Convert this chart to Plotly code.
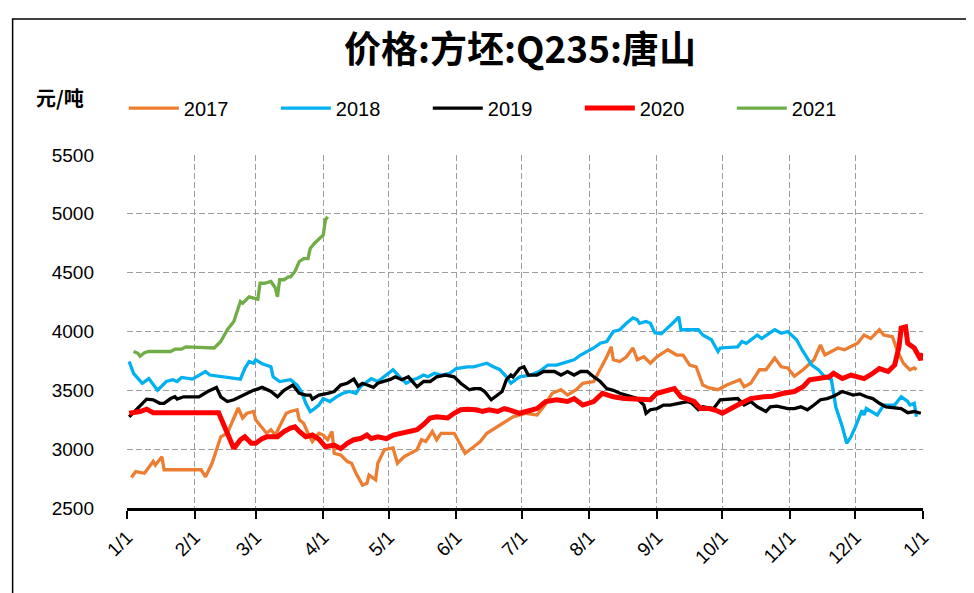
import plotly.graph_objects as go

# ---- data: day-of-year offset (0 = Jan 1) and price (元/吨) ----
d2017 = [2,4,8,12,13,16,17,34,36,39,43,46,49,51,53,55,58,59,64,66,68,73,75,78,79,81,83,85,88,90,92,94,95,98,101,103,105,108,110,111,114,115,118,122,124,127,130,133,135,137,140,142,144,150,153,155,159,162,165,170,174,177,183,188,191,195,199,202,206,209,214,217,220,222,223,226,229,232,234,237,240,243,248,252,255,258,261,264,267,271,275,281,283,286,290,293,297,300,303,306,310,315,318,320,323,326,329,332,335,338,341,345,347,351,353,356,359,361,362]
v2017 = [2760,2810,2795,2895,2865,2935,2825,2825,2765,2880,3105,3135,3265,3350,3265,3305,3320,3250,3135,3165,3120,3305,3320,3335,3250,3220,3135,3065,3135,3120,3080,3150,2965,2950,2895,2880,2795,2695,2710,2780,2740,2880,2995,3010,2880,2935,2965,2995,3080,3065,3150,3080,3135,3135,3035,2965,3020,3065,3135,3190,3235,3275,3305,3290,3360,3475,3505,3460,3505,3560,3575,3675,3785,3870,3760,3745,3785,3860,3760,3785,3730,3785,3845,3800,3800,3715,3700,3545,3520,3505,3545,3590,3530,3560,3675,3675,3775,3700,3690,3620,3675,3760,3885,3800,3830,3860,3845,3870,3900,3970,3940,4015,3970,3955,3845,3730,3675,3690,3675]

d2018 = [1,3,7,10,14,18,21,23,25,30,36,38,52,54,56,58,59,62,66,67,70,75,78,80,82,84,86,88,90,93,96,99,102,105,107,110,112,115,118,122,125,128,131,133,136,138,141,144,148,151,156,159,162,165,168,171,174,176,180,185,189,193,197,202,205,208,211,214,217,220,223,226,229,232,234,235,238,240,242,245,251,253,254,258,262,264,268,271,272,280,282,284,289,291,297,300,303,307,310,314,317,320,323,325,328,330,332,334,336,337,338,339,344,347,352,355,358,359,361,362]
v2018 = [3745,3645,3560,3600,3500,3575,3590,3575,3610,3595,3660,3630,3595,3685,3745,3730,3760,3725,3700,3615,3575,3590,3545,3490,3390,3320,3345,3375,3430,3405,3445,3475,3490,3475,3530,3575,3600,3575,3615,3675,3615,3560,3590,3600,3630,3615,3645,3630,3645,3685,3700,3700,3715,3730,3700,3675,3615,3560,3615,3630,3660,3715,3715,3745,3760,3800,3830,3860,3900,3915,4000,4015,4070,4115,4100,4070,4085,4070,3990,3980,4085,4125,4015,4015,4015,3970,3930,3830,3860,3870,3915,3900,3970,3940,4015,3985,4000,3930,3830,3715,3675,3615,3590,3360,3190,3050,3105,3190,3275,3330,3290,3345,3290,3375,3375,3445,3405,3375,3390,3275]

d2019 = [1,4,6,9,12,15,17,20,22,23,26,33,37,41,43,46,49,52,58,62,66,69,72,76,79,82,84,85,88,92,95,98,101,104,106,108,113,115,121,123,126,129,133,136,139,142,146,150,153,157,159,162,164,167,170,172,174,176,177,180,182,184,188,191,196,199,202,205,208,211,214,217,220,223,226,229,234,237,238,240,243,246,249,253,257,259,262,264,269,272,275,280,283,286,289,293,295,298,303,306,309,312,315,318,321,324,328,330,333,336,339,342,345,348,352,355,358,361,364]
v2019 = [3275,3335,3375,3425,3420,3390,3390,3430,3445,3425,3445,3445,3490,3525,3445,3405,3420,3445,3500,3525,3490,3445,3500,3545,3475,3460,3460,3425,3460,3475,3490,3545,3560,3595,3535,3560,3525,3560,3595,3615,3590,3615,3530,3575,3575,3615,3630,3615,3560,3505,3515,3515,3490,3420,3460,3490,3590,3630,3615,3685,3700,3630,3630,3660,3660,3630,3660,3630,3660,3660,3615,3575,3515,3500,3475,3460,3430,3375,3305,3335,3345,3375,3375,3390,3405,3390,3335,3360,3345,3420,3425,3430,3375,3405,3360,3320,3360,3365,3345,3345,3360,3335,3375,3420,3430,3450,3490,3475,3460,3470,3445,3430,3390,3360,3355,3345,3310,3320,3305]

d2020 = [1,6,9,12,42,46,49,52,54,57,59,62,64,69,72,75,77,79,82,85,88,91,95,98,101,104,107,110,112,115,119,122,126,130,133,136,139,142,147,150,153,156,160,163,166,170,173,176,180,183,188,192,197,202,205,209,214,218,223,228,232,237,240,243,246,251,254,257,260,263,267,270,273,280,286,292,296,301,306,310,313,317,322,324,328,332,338,342,345,349,352,354,355,357,358,361,363,364,365]
v2020 = [3305,3320,3340,3310,3310,3135,3005,3080,3105,3050,3050,3090,3105,3105,3150,3180,3190,3150,3105,3120,3085,3020,3035,3005,3050,3080,3090,3120,3090,3105,3090,3120,3135,3150,3165,3210,3265,3275,3265,3305,3335,3340,3335,3320,3335,3320,3345,3330,3305,3320,3345,3405,3420,3405,3430,3375,3405,3475,3445,3430,3430,3420,3420,3475,3490,3515,3445,3430,3405,3345,3345,3330,3305,3375,3430,3445,3450,3475,3490,3530,3590,3600,3615,3645,3600,3630,3600,3645,3685,3660,3715,3870,4030,4040,3900,3860,3800,3760,3815]

d2021 = [3,5,6,8,10,20,22,25,27,32,40,43,46,49,50,52,53,56,59,60,61,63,66,68,69,70,72,74,75,77,79,81,83,84,86,88,90,91,92]
v2021 = [3830,3815,3790,3820,3830,3830,3850,3850,3870,3865,3860,3915,4015,4085,4140,4255,4240,4295,4280,4275,4410,4410,4425,4370,4295,4440,4440,4465,4465,4510,4595,4620,4620,4705,4750,4790,4820,4950,4975]

series_names = ["2017", "2018", "2019", "2020", "2021"]
series_days = [d2017, d2018, d2019, d2020, d2021]
series_vals = [v2017, v2018, v2019, v2020, v2021]
series_colors = ["#ED7D31", "#00B0F0", "#000000", "#FF0000", "#70AD47"]
series_widths = [3.3, 3.3, 3.3, 5, 3.3]

month_days = [0, 31, 59, 90, 120, 151, 181, 212, 243, 273, 304, 334, 365]
month_labels = ["1/1", "2/1", "3/1", "4/1", "5/1", "6/1", "7/1", "8/1", "9/1", "10/1", "11/1", "12/1", "1/1"]
y_ticks = [2500, 3000, 3500, 4000, 4500, 5000, 5500]

title_text = "价格:方坯:Q235:唐山"
unit_text = "元/吨"

fig = go.Figure()
for name, dd, vv, col, w in zip(series_names, series_days, series_vals, series_colors, series_widths):
    fig.add_trace(go.Scatter(x=dd, y=vv, mode="lines", name=name,
                             line=dict(color=col, width=w)))

# page body has an 8px margin: figure is sized/offset to compensate
W, H = 966, 585
grid_col = "#9E9E9E"
fig.update_layout(
    width=W, height=H,
    margin=dict(l=119, r=51, t=147, b=85, autoexpand=False),
    paper_bgcolor="white", plot_bgcolor="white",
    font=dict(family="Arial, Liberation Sans, sans-serif", size=19, color="black"),
    title=dict(text=f"<b>{title_text}</b>", x=0.4937, xref="paper", xanchor="center",
               y=1 - 42 / H, yref="container", yanchor="middle",
               font=dict(family="Noto Sans CJK SC", size=37, color="black")),
    showlegend=True,
    legend=dict(orientation="h", x=-0.004, xanchor="left", y=1.133, yanchor="middle",
                font=dict(size=20, family="Arial, Liberation Sans, sans-serif"),
                entrywidth=87, entrywidthmode="pixels", itemwidth=50,
                bgcolor="rgba(0,0,0,0)", traceorder="normal"),
    xaxis=dict(range=[0, 365], tickmode="array", tickvals=month_days, ticktext=month_labels,
               tickangle=-45, showgrid=True, gridcolor=grid_col, griddash="6px,3px", gridwidth=1,
               showline=True, linecolor="black", linewidth=2.5,
               ticks="outside", ticklen=8, tickwidth=2, tickcolor="black",
               zeroline=False, tickfont=dict(size=19)),
    yaxis=dict(range=[2500, 5500], tickmode="array", tickvals=y_ticks,
               showgrid=True, gridcolor=grid_col, griddash="6px,3px", gridwidth=1,
               showline=False, zeroline=False, ticks="", ticklabelstandoff=32,
               tickfont=dict(size=19)),
    annotations=[dict(text=f"<b>{unit_text}</b>", xref="paper", yref="paper",
                      x=-0.0846, y=1.164, xanchor="center", yanchor="middle",
                      showarrow=False, font=dict(family="Noto Sans CJK SC", size=20, color="black"))],
    shapes=[dict(type="rect", xref="paper", yref="paper", x0=-0.1437, x1=1.2,
                 y0=-0.4, y1=1.385, line=dict(color="black", width=1.5),
                 fillcolor="rgba(0,0,0,0)", layer="below")],
)

fig.write_html("out.html")
